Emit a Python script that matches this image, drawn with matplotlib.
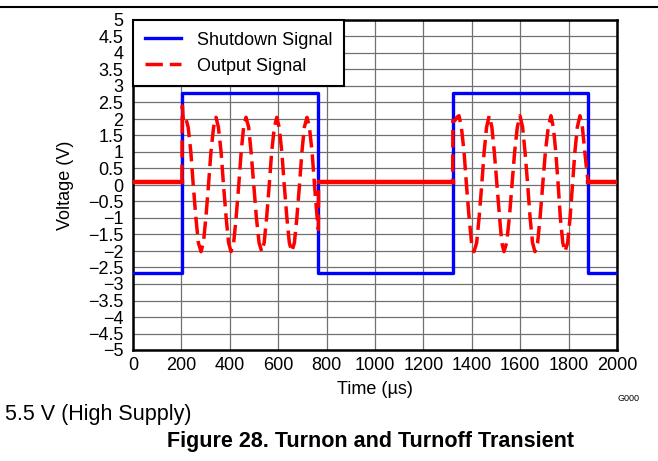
import matplotlib.pyplot as plt
from matplotlib.lines import Line2D
from matplotlib.ticker import MultipleLocator, FuncFormatter

plt.rcParams['font.family'] = ['Liberation Sans', 'DejaVu Sans']

# shutdown signal (square wave)
shut_t = [0, 202, 202, 766, 766, 1321, 1321, 1881, 1881, 2000]
shut_v = [-2.66, -2.66, 2.79, 2.79, -2.66, -2.66, 2.79, 2.79, -2.66, -2.66]

# output signal, baseline while off
off1_t = [0, 202]
off1_v = [0.1, 0.1]
off2_t = [767, 1321]
off2_v = [0.1, 0.1]
off3_t = [1881, 2000]
off3_v = [0.1, 0.1]

# first burst (approx 8 kHz, ~2 V peak)
burst1_t = [202, 204, 208, 212, 218, 228, 239, 249, 260, 270, 281, 291, 301, 312,
            322, 333, 343, 353, 364, 374, 385, 395, 405, 416, 426, 437, 447, 457,
            467, 478, 488, 499, 510, 521, 532, 542, 552, 563, 573, 584, 594, 604,
            615, 625, 636, 646, 656, 667, 677, 688, 698, 708, 719, 729, 740, 750,
            761, 766]
burst1_v = [0.1, 2.4, 1.95, 1.95, 2.03, 1.75, 1.0, 0.0, -1.0, -1.75, -2.02, -1.75, -1.0, 0.0,
            1.0, 1.75, 2.05, 1.75, 1.0, 0.0, -1.0, -1.75, -2.02, -1.75, -1.0, 0.0, 1.0, 1.75,
            2.05, 1.75, 1.0, 0.0, -1.0, -1.75, -2.02, -1.75, -1.0, 0.0, 1.0, 1.75, 2.05, 1.75,
            1.0, 0.0, -1.0, -1.75, -2.02, -1.75, -1.0, 0.0, 1.0, 1.75, 2.05, 1.75, 1.0, 0.0,
            -1.0, -1.35]

# second burst
burst2_t = [1321, 1322, 1330, 1338, 1347, 1357, 1368, 1378, 1389, 1399, 1409, 1420, 1430,
            1441, 1451, 1461, 1472, 1483, 1493, 1504, 1515, 1524, 1533, 1544, 1555, 1566,
            1577, 1588, 1599, 1610, 1620, 1631, 1641, 1651, 1661, 1672, 1682, 1693, 1704,
            1716, 1727, 1737, 1747, 1757, 1766, 1776, 1785, 1796, 1806, 1816, 1826, 1836,
            1847, 1857, 1867, 1877, 1881]
burst2_v = [0.1, 1.95, 1.95, 2.05, 2.1, 1.75, 1.0, 0.0, -1.0, -1.75, -2.02, -1.75, -1.0,
            0.0, 1.0, 1.75, 2.1, 1.75, 1.0, 0.0, -1.0, -1.75, -2.02, -1.75, -1.0, 0.0,
            1.0, 1.75, 2.1, 1.75, 1.0, 0.0, -1.0, -1.75, -2.02, -1.75, -1.0, 0.0, 1.0,
            1.75, 2.1, 1.75, 1.0, 0.0, -1.0, -1.75, -2.02, -1.75, -1.0, 0.0, 1.0, 1.75,
            2.1, 1.75, 1.0, 0.3, 0.1]

out_t = off1_t + burst1_t + off2_t + burst2_t + off3_t
out_v = off1_v + burst1_v + off2_v + burst2_v + off3_v

fig = plt.figure(figsize=(6.58, 4.61), dpi=100)
ax = fig.add_axes([133 / 658, 1 - 350 / 461, 484 / 658, 330 / 461])

ax.plot(shut_t, shut_v, color='#0000ff', lw=2.4, label='Shutdown Signal', zorder=3)
ax.plot(out_t, out_v, color='#ff0000', lw=2.5, ls=(0, (5, 2.0)), label='Output Signal', zorder=4)
# flat parts look solid in the scope trace
for tt, vv in [(off1_t, off1_v), (off2_t, off2_v), (off3_t, off3_v)]:
    ax.plot(tt, vv, color='#ff0000', lw=3.2, zorder=4)

ax.set_xlim(0, 2000)
ax.set_ylim(-5, 5)
ax.xaxis.set_major_locator(MultipleLocator(200))
ax.yaxis.set_major_locator(MultipleLocator(0.5))
ax.yaxis.set_major_formatter(FuncFormatter(lambda v, p: f"{v:g}".replace('-', '\u2212')))
ax.tick_params(length=0, labelsize=13)
ax.tick_params(axis='y', pad=7)
ax.tick_params(axis='x', pad=5)
ax.grid(True, color='#707070', lw=0.9)
ax.set_axisbelow(True)
for s in ax.spines.values():
    s.set_linewidth(1.8)
    s.set_color('black')

ax.set_xlabel('Time (\u00b5s)', fontsize=13, labelpad=5)
ax.set_ylabel('Voltage (V)', fontsize=13, labelpad=10)

leg = ax.legend(loc='upper left', bbox_to_anchor=(0, 1), borderaxespad=0,
                fontsize=13, fancybox=False, framealpha=1, edgecolor='black',
                handlelength=2.0, handletextpad=0.9, borderpad=0.65, labelspacing=0.5)
leg.get_frame().set_linewidth(1.5)
leg.set_zorder(10)

fig.add_artist(Line2D([0, 1], [1 - 7 / 461, 1 - 7 / 461], color='black', lw=1.5))
fig.text(628 / 658, 1 - 398 / 461, 'G000', fontsize=6.5, ha='center', va='center')
fig.text(5 / 658, 1 - 414 / 461, '5.5 V (High Supply)', fontsize=15.5, ha='left', va='center')
fig.text(370 / 658, 1 - 441 / 461, 'Figure 28. Turnon and Turnoff Transient', fontsize=15.5,
         fontweight='bold', ha='center', va='center')

fig.savefig('out.png', dpi=100)
